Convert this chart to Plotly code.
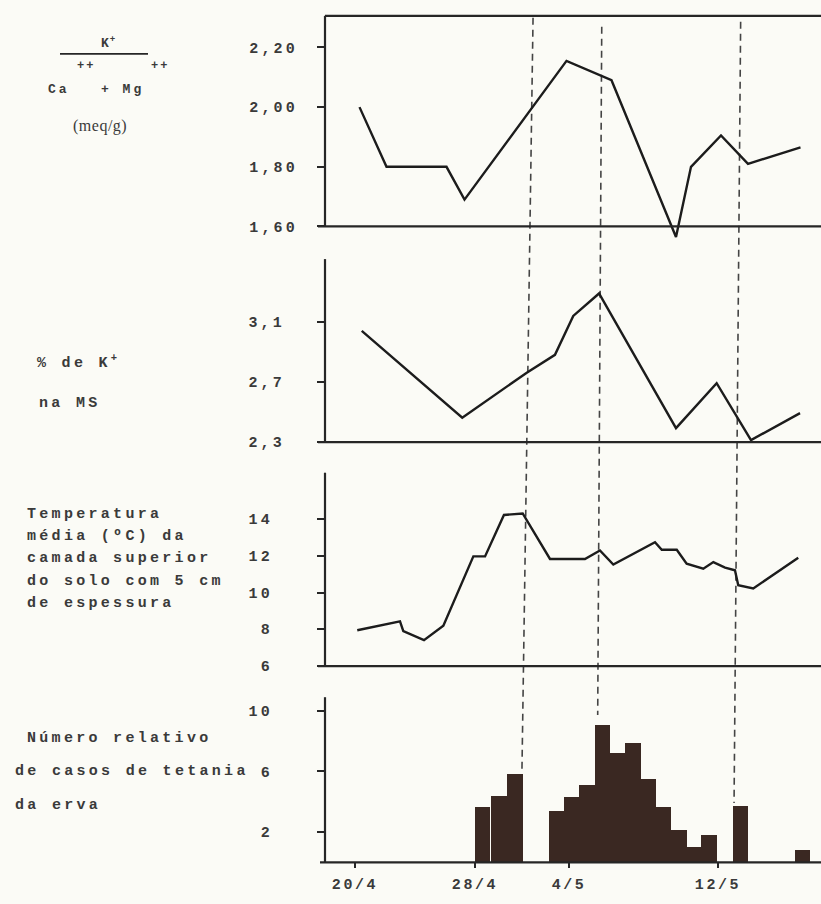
import plotly.graph_objects as go

# ---- data (x = position in days along the time axis, 0 = 20/4) ----
ratio_x = [0.3, 2.1, 6.1, 7.3, 14.1, 17.1, 21.4, 22.4, 24.4, 26.2, 29.7]
ratio_y = [2.00, 1.80, 1.80, 1.69, 2.155, 2.09, 1.565, 1.80, 1.905, 1.81, 1.865]

potassium_x = [0.45, 7.15, 11.45, 13.33, 14.55, 16.27, 21.4, 24.11, 26.4, 29.67]
potassium_y = [3.04, 2.46, 2.76, 2.88, 3.14, 3.29, 2.39, 2.69, 2.31, 2.49]

temp_x = [0.15, 3.0, 3.22, 4.6, 5.89, 7.89, 8.67, 9.93, 11.18, 13.0, 15.33, 16.33,
          17.22, 20.0, 20.45, 21.45, 22.11, 23.22, 23.89, 24.67, 25.33, 25.55, 26.55, 29.55]
temp_y = [7.94, 8.43, 7.89, 7.40, 8.19, 11.97, 11.97, 14.23, 14.31, 11.83, 11.83, 12.29,
          11.53, 12.74, 12.33, 12.33, 11.57, 11.30, 11.66, 11.36, 11.21, 10.40, 10.22, 11.90]

cases_x = [8.5, 9.6, 10.67, 13.46, 14.47, 15.49, 16.5, 17.52, 18.53, 19.55, 20.56,
           21.58, 22.59, 23.6, 25.7, 29.83]
cases_y = [3.6, 4.33, 5.8, 3.33, 4.27, 5.05, 9.07, 7.19, 7.86, 5.45, 3.65, 2.13,
           0.98, 1.8, 3.66, 0.76]

date_ticks = [0, 8, 14.27, 24.2]
date_labels = ["20/4", "28/4", "4/5", "12/5"]

ratio_ticks = [1.60, 1.80, 2.00, 2.20]
ratio_labels = ["1,60", "1,80", "2,00", "2,20"]
potassium_ticks = [2.3, 2.7, 3.1]
potassium_labels = ["2,3", "2,7", "3,1"]
temp_ticks = [6, 8, 10, 12, 14]
temp_labels = ["6", "8", "10", "12", "14"]
cases_ticks = [2, 6, 10]
cases_labels = ["2", "6", "10"]

# ---- page geometry helpers ----
W, H = 821, 904
INK = "#262626"
TEXT = "#3a3a3a"
BG = "#fbfbf6"
MONO = "Liberation Mono"


def fx(p):
    return p / W


def fy(p):
    return 1 - p / H


def spaced(text, ls=3.3):
    return f'<span style="letter-spacing:{ls}px">{text}</span>'


fig = go.Figure()

line_style = dict(color="#1c1c1c", width=2.4)
fig.add_trace(go.Scatter(x=ratio_x, y=ratio_y, mode="lines", line=line_style,
                         xaxis="x", yaxis="y"))
fig.add_trace(go.Scatter(x=potassium_x, y=potassium_y, mode="lines", line=line_style,
                         xaxis="x", yaxis="y2"))
fig.add_trace(go.Scatter(x=temp_x, y=temp_y, mode="lines", line=line_style,
                         xaxis="x", yaxis="y3"))
fig.add_trace(go.Bar(x=cases_x, y=cases_y, width=1.06, marker=dict(color="#3a2822", line_width=0),
                     xaxis="x", yaxis="y4"))

tick_font = dict(family=MONO, size=15, color=TEXT, weight="bold")


def yaxis(top_px, bottom_px, rng, vals, labels, standoff):
    return dict(
        domain=[fy(bottom_px), fy(top_px)], range=rng, anchor="x",
        showgrid=False, zeroline=False, showline=False,
        ticks="outside", ticklen=7, tickwidth=1.5, tickcolor=INK,
        tickvals=vals, ticktext=[spaced(t, 3.2) for t in labels],
        tickfont=tick_font, ticklabelstandoff=standoff, fixedrange=True,
    )


layout = dict(
    width=W, height=H,
    margin=dict(l=0, r=0, t=0, b=0),
    paper_bgcolor=BG, plot_bgcolor=BG,
    showlegend=False, bargap=0,
    xaxis=dict(
        domain=[fx(325), 1], range=[-2, 31.067], anchor="y4",
        showgrid=False, zeroline=False, showline=False,
        ticks="outside", ticklen=5, tickwidth=1.5, tickcolor=INK,
        tickvals=date_ticks, ticktext=[spaced(t, 2.6) for t in date_labels],
        tickfont=tick_font, ticklabelstandoff=3,
    ),
    yaxis=yaxis(16, 245, [1.547, 2.306], ratio_ticks, ratio_labels, 16),
    yaxis2=yaxis(262, 447, [2.2967, 3.5198], potassium_ticks, potassium_labels, 29),
    yaxis3=yaxis(478, 673.3, [6, 16.534], temp_ticks, temp_labels, 41),
    yaxis4=yaxis(705, 871.7, [0, 10.895], cases_ticks, cases_labels, 41),
)
fig.update_layout(**layout)

shapes = []


def seg(x0, y0, x1, y1, width=2.2, color=INK):
    shapes.append(dict(type="line", xref="paper", yref="paper",
                       x0=fx(x0), y0=fy(y0), x1=fx(x1), y1=fy(y1),
                       line=dict(color=color, width=width)))


# panel frames
seg(325, 16, 821, 16)
seg(325, 16, 325, 229)
seg(318, 229, 821, 229)
seg(325, 262, 325, 447)
seg(318, 447, 821, 447)
seg(325, 478, 325, 673.5)
seg(318, 673.5, 821, 673.5)
seg(325, 705, 325, 872)
seg(320, 872, 821, 872)

# dashed guide lines running through all four panels
guides = [((11.87, 18), (11.13, 779)), ((16.45, 27), (16.18, 723)), ((25.71, 22), (25.27, 812))]
for (xa, ya), (xb, yb) in guides:
    shapes.append(dict(type="line", xref="x", yref="paper", x0=xa, y0=fy(ya), x1=xb, y1=fy(yb),
                       line=dict(color="#444444", width=1.6, dash="7px,5px"), layer="below"))

# fraction bar of the first label
seg(60, 54.5, 148, 54.5, width=1.8)
fig.update_layout(shapes=shapes)

ann = []


def label(text, x, y, size=15, anchor="left", family=MONO, ls=3.3, weight="bold"):
    ann.append(dict(text=spaced(text, ls) if ls else text, x=fx(x), y=fy(y),
                    xref="paper", yref="paper", xanchor=anchor, yanchor="middle",
                    showarrow=False,
                    font=dict(family=family, size=size, color=TEXT, weight=weight)))


label("K<sup>+</sup>", 108, 43, size=13, anchor="center", ls=1)
label("++", 86, 67, size=12, anchor="center", ls=2)
label("++", 160, 67, size=12, anchor="center", ls=2)
label("Ca", 46, 90, size=13, ls=3)
label("+ Mg", 99, 90, size=13, ls=3)
label("(meq/g)", 100, 127, size=16, anchor="center", family="Liberation Serif", ls=0.5,
      weight="normal")

label("% de K<sup>+</sup>", 35, 366)
label("na MS", 37, 408)

label("Temperatura", 25, 520)
label("média (ºC) da", 25, 542)
label("camada superior", 25, 565)
label("do solo com 5 cm", 25, 588)
label("de espessura", 25, 610)

label("Número relativo", 25, 747)
label("de casos de tetania", 13, 780)
label("da erva", 13, 815)

fig.update_layout(annotations=ann)

fig.write_html("out.html")
